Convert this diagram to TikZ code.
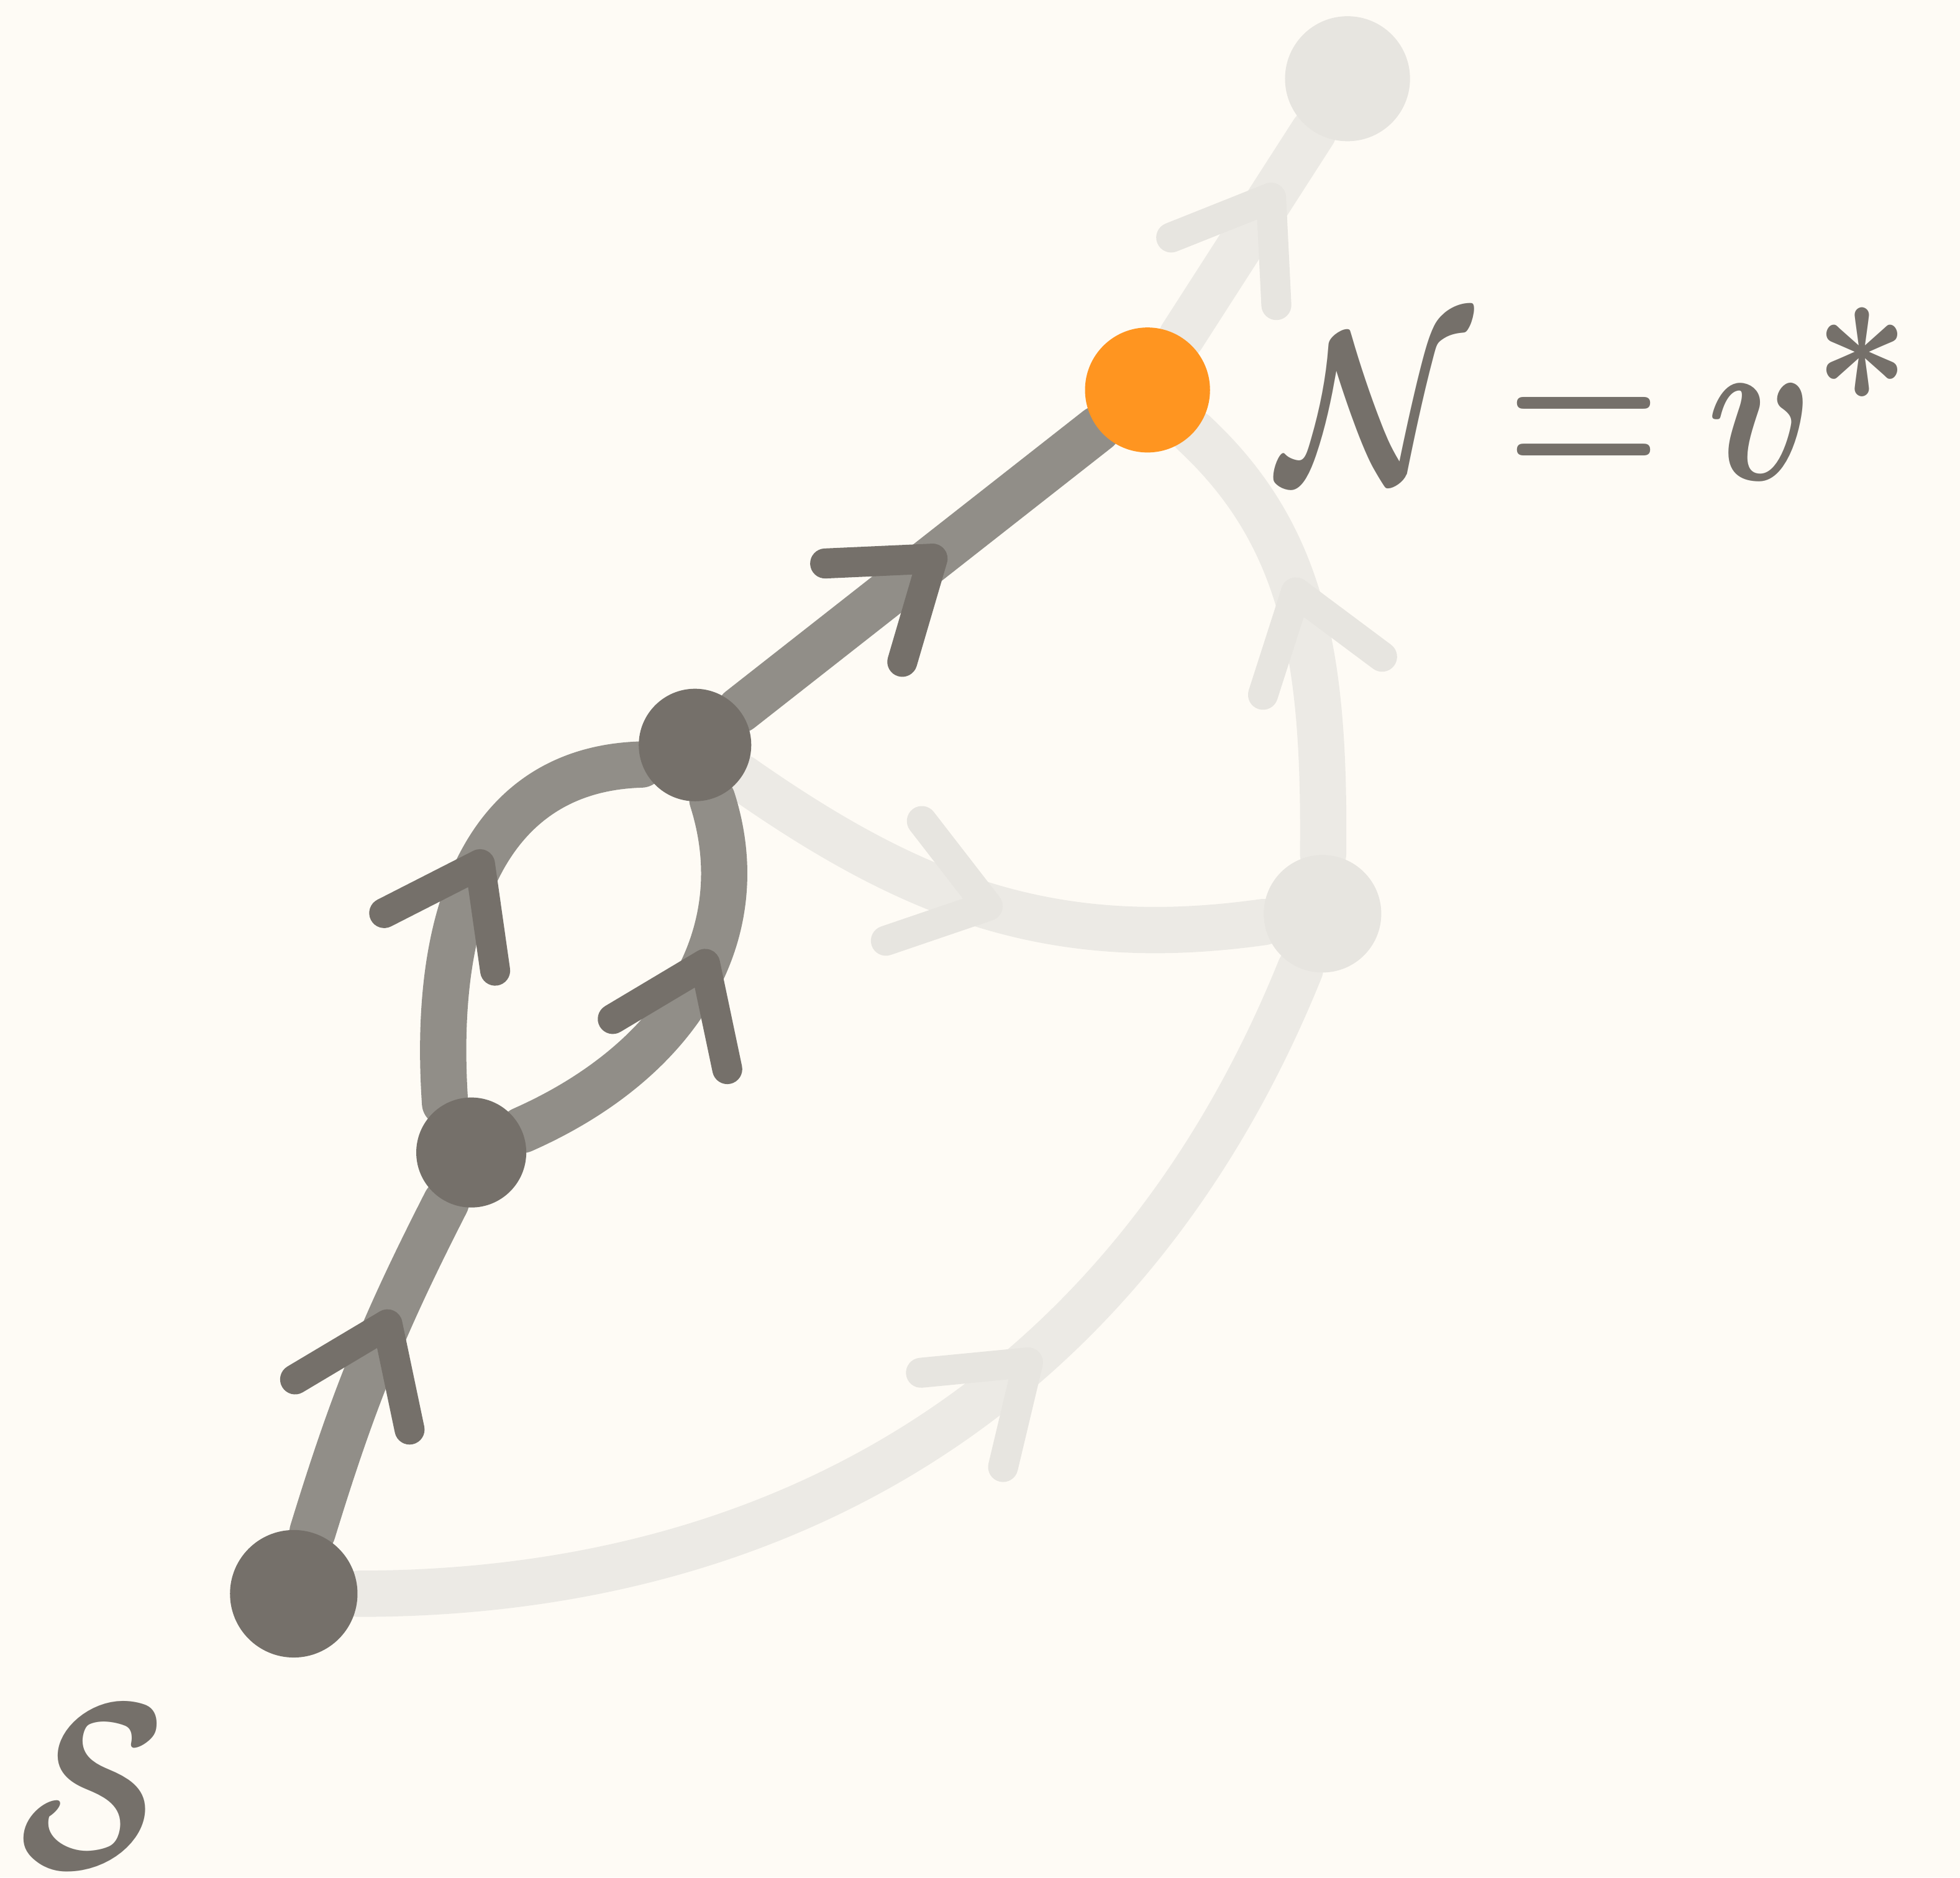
\documentclass[tikz,border=0pt]{standalone}
\usepackage{amsmath}
\usepackage{graphicx}
\usepackage{tikz}
\usetikzlibrary{arrows.meta,positioning,decorations.markings,backgrounds}
\definecolor{paper}{HTML}{FEFBF5}
\definecolor{ink}{HTML}{75706A}
\definecolor{edgecol}{HTML}{918E88}
\definecolor{fadecol}{HTML}{ECEAE5}
\definecolor{fadenode}{HTML}{E7E5E0}
\definecolor{goalcol}{HTML}{FF9520}
\newcommand{\biglab}[3]{\scalebox{#1}[#2]{\huge\boldmath #3}}

\begin{document}
\begin{tikzpicture}[
  line cap=round, line join=round,
  spot/.style={circle, inner sep=0pt, minimum size=#1},
  live/.style={spot=#1, fill=ink},
  idle/.style={spot=#1, fill=fadenode},
  goal/.style={spot=#1, fill=goalcol},
  hot/.style={edgecol, line width=3.7mm, line cap=round},
  cold/.style={fadecol, line width=3.7mm, line cap=round},
  headmark/.style 2 args={postaction={decorate, decoration={markings,
      mark=at position #1 with {\draw[#2, line width=2.4mm, line cap=round, line join=round]
        (-0.7,0.5) -- (0,0) -- (-0.7,-0.5);}}}},
  lab/.style={text=ink, inner sep=0pt}]

\useasboundingbox (0,0) rectangle (15.68,-15.02);

% ---- vertices ---------------------------------------------------------
\node[live=1.02cm] (s) at (2.35,-12.75) {};
\node[live=0.88cm] (a) at (3.77,-9.22) {};
\node[live=0.90cm] (b) at (5.56,-5.96) {};
\node[goal=1.00cm] (n) at (9.18,-3.12) {};
\node[idle=1.00cm] (t) at (10.78,-0.63) {};
\node[idle=0.94cm] (r) at (10.58,-7.31) {};

% ---- labels -----------------------------------------------------------
\node[lab] (slab) at (0.74,-14.29) {\biglab{2.1}{2.6}{$\mathcal{S}$}};
\node[lab, anchor=base west] (nlab) at (10.22,-3.84)
  {\biglab{1.95}{2.35}{$\mathcal{N}\mkern-2mu=\mkern-1mu v^{\scalebox{1.35}{$\scriptstyle\ast$}}$}};

\begin{scope}[on background layer]
  \fill[paper] (0,0) rectangle (15.68,-15.02);

  % ---- faded edges ----------------------------------------------------
  \draw[cold, headmark={0.6}{fadenode}] (s) to[out=0, in=-112] (r);
  \draw[cold, headmark={0.5}{fadenode}] (b) to[out=-35, in=188] (r);
  \draw[cold, headmark={0.58}{fadenode}] (r) .. controls (10.6,-5.3) and (10.45,-4.3) .. (n);
  \draw[cold, headmark={0.68}{fadenode}] (n) -- (t);

  % ---- live edges -----------------------------------------------------
  \draw[hot, headmark={0.62}{ink}] (s) to[bend left=5] (a);
  \draw[hot, headmark={0.55}{ink}] (a.118) .. controls (3.45,-7.2) and (3.95,-6.15) .. (b.200);
  \draw[hot, headmark={0.6}{ink}] (a) .. controls (5.4,-8.5) and (6.05,-7.5) .. (b);
  \draw[hot, headmark={0.54}{ink}] (b) -- (n);
\end{scope}

\end{tikzpicture}
\end{document}
